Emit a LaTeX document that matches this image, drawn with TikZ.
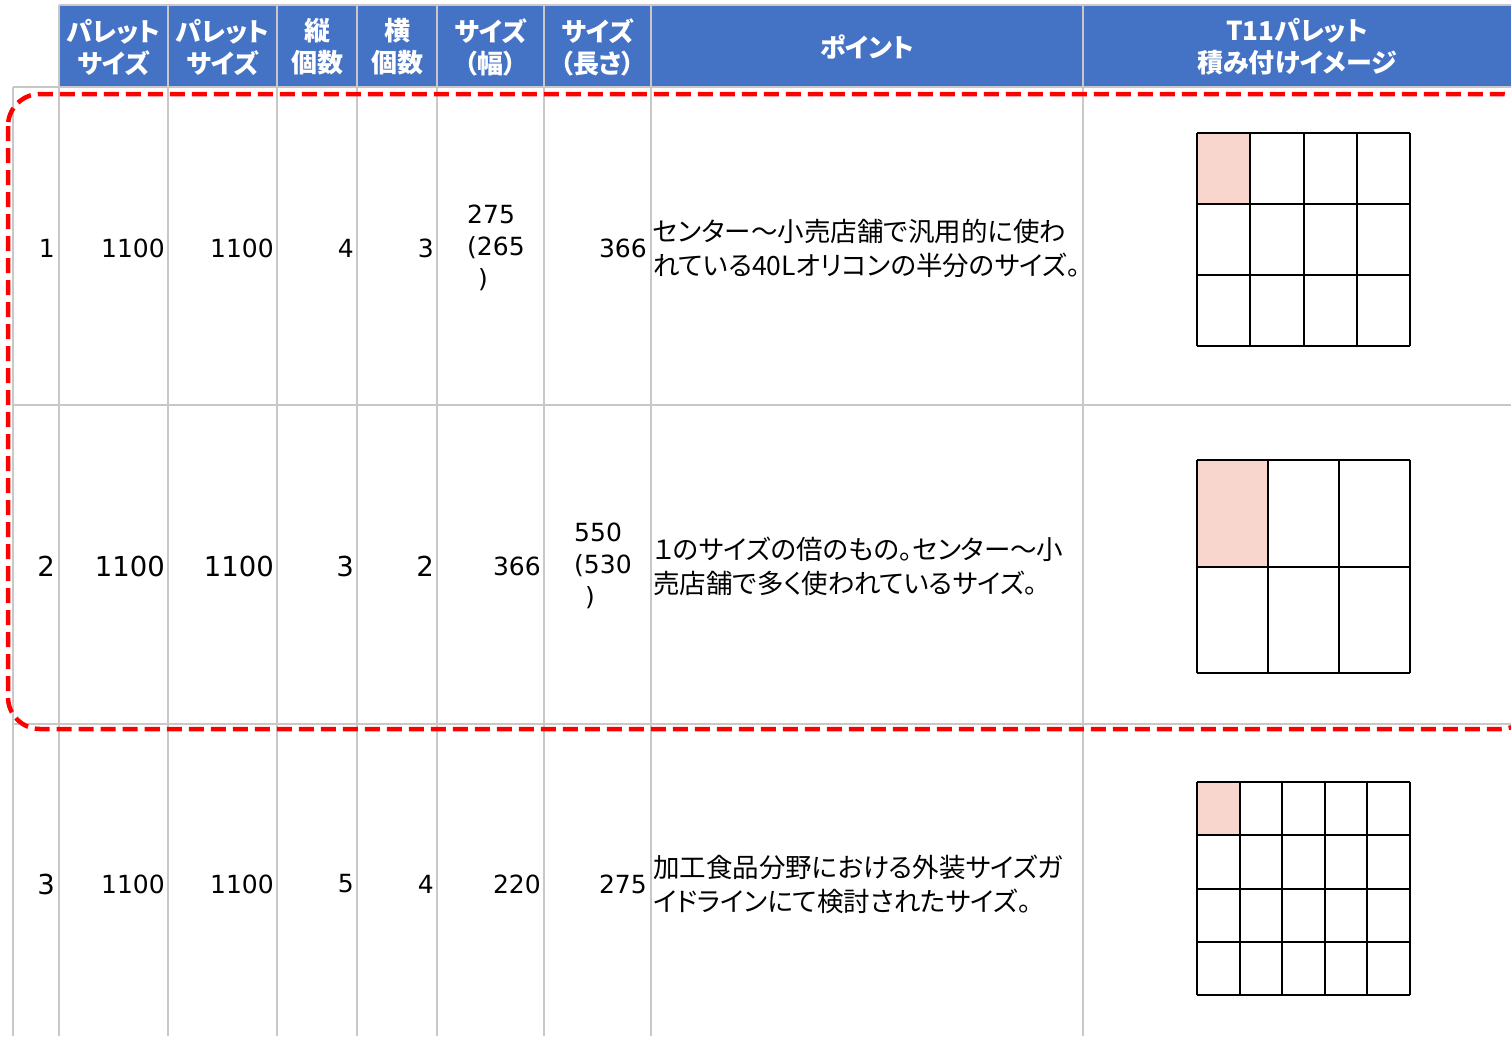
\documentclass[tikz,border=0pt]{standalone}
\usepackage{fontspec}
\setmainfont{Noto Sans CJK JP}
\newfontfamily\palfont{Noto Sans CJK JP}[RawFeature=+palt]
\newfontfamily\numfont{DejaVu Sans}
\usepackage{xcolor}
\definecolor{headblue}{RGB}{68,114,196}
\definecolor{gridgray}{RGB}{200,200,200}
\definecolor{boxred}{RGB}{255,0,0}
\definecolor{cellpink}{RGB}{248,214,205}
\tikzset{
  gridline/.style={draw=gridgray, line width=1.5pt},
  headtext/.style={text=white, font=\palfont\bfseries\fontsize{26}{32}\selectfont, align=center, inner sep=0pt},
  numtext/.style={font=\numfont\fontsize{25}{32}\selectfont, inner sep=0pt, anchor=east},
  bignum/.style={numtext, font=\numfont\fontsize{27.5}{32}\selectfont},
  sizetext/.style={font=\numfont\fontsize{25}{32}\selectfont, inner sep=0pt, anchor=west, align=left},
  pointtext/.style={font=\palfont\fontsize{26.5}{34}\selectfont, inner sep=0pt, anchor=west, align=left},
  palletline/.style={draw=black, line width=2pt},
  roundbox/.style={draw=boxred, line width=4.5pt, dash pattern=on 15pt off 7pt, rounded corners=32pt}
}

\begin{document}
\begin{tikzpicture}[x=1pt, y=-1pt]
\useasboundingbox (0,0) rectangle (1511,1036);
\clip (0,0) rectangle (1511,1036);
\fill[white] (0,0) rectangle (1511,1036);
% header band and table rules
\fill[headblue] (59,5) rectangle (1520,87);
\draw[gridline] (59,5) -- (1520,5);
\foreach \y in {87,405,724}
  \draw[gridline] (13,\y) -- (1520,\y);
\draw[gridline] (13,87) -- (13,1036);
\foreach \x in {59,168,277,357,437,544,651,1083}
  \draw[gridline] (\x,5) -- (\x,1036);
% header texts
\foreach \xc/\txt [count=\i] in {113.5/{パレット\\サイズ}, 222.5/{パレット\\サイズ},
    317/{縦\\個数}, 397/{横\\個数}, 490.5/{サイズ\\（幅）}, 597.5/{サイズ\\（長さ）},
    867/{ポイント}, 1297/{T11パレット\\積み付けイメージ}}
  \node[headtext] (h\i) at (\xc,47) {\txt};
% numbers
\foreach \y/\a/\b/\c/\d/\e/\s/\t [count=\r] in {248/1/1100/1100/4/3/numtext/numtext,
    566/2/1100/1100/3/2/bignum/bignum, 884/3/1100/1100/5/4/bignum/numtext} {
  \node[\s] (no\r) at (55,\y) {\a};
  \node[\t] (pw\r) at (165,\y) {\b};
  \node[\t] (pl\r) at (274,\y) {\c};
  \node[\t] (ny\r) at (354,\y) {\d};
  \node[\t] (nx\r) at (434,\y) {\e};
}
\node[sizetext] (sw1) at (467,248) {275\\(265\\\hspace*{11pt})};
\node[numtext] (sl1) at (647,248) {366};
\node[numtext] (sw2) at (541,566) {366};
\node[sizetext] (sl2) at (574,566) {550\\(530\\\hspace*{11pt})};
\node[numtext] (sw3) at (541,884) {220};
\node[numtext] (sl3) at (647,884) {275};
% points
\node[pointtext] (pt1) at (653,248) {センター～小売店舗で汎用的に使わ\\れている40Lオリコンの半分のサイズ。};
\node[pointtext] (pt2) at (653,566) {１のサイズの倍のもの。センター～小\\売店舗で多く使われているサイズ。};
\node[pointtext] (pt3) at (653,884) {加工食品分野における外装サイズガ\\イドラインにて検討されたサイズ。};
% pallet images
\foreach \top/\nx/\ny in {133/4/3, 460/3/2, 782/5/4} {
  \fill[cellpink] (1197,\top) rectangle ++(213/\nx,213/\ny);
  \foreach \i in {0,...,\nx}
    \draw[palletline] (1197+\i*213/\nx,\top) -- ++(0,213);
  \foreach \j in {0,...,\ny}
    \draw[palletline] (1197,\top+\j*213/\ny) -- ++(213,0);
}
% highlight
\draw[roundbox] (8,94) rectangle (1533,729);
\end{tikzpicture}
\end{document}
